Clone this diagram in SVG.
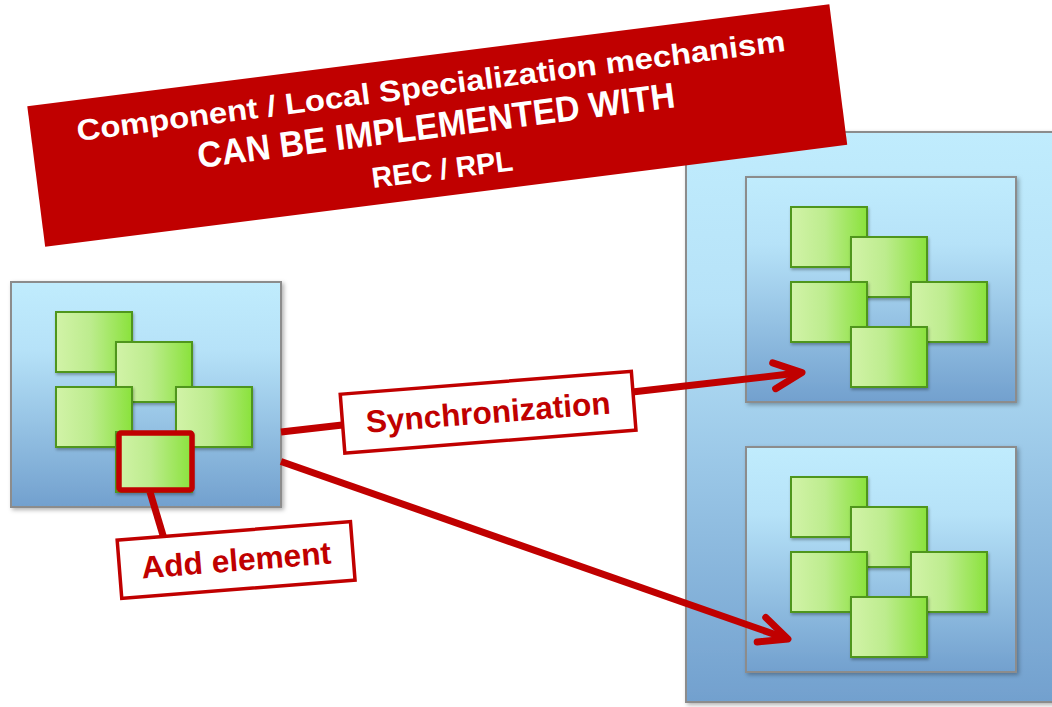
<svg xmlns="http://www.w3.org/2000/svg" width="1052" height="707" viewBox="0 0 1052 707">
  <style>
    .box { fill: url(#boxGrad); stroke: #8c8c8c; stroke-width: 2; filter: url(#shadow); }
    .el { fill: url(#greenGrad); stroke: #4f961f; stroke-width: 2; filter: url(#shadowSmall); }
    .conn { fill: none; stroke: #c00000; stroke-width: 7; }
    .lbl { fill: #ffffff; stroke: #c00000; stroke-width: 3.5; }
    .lbltxt { font-family: "Liberation Sans", Arial, sans-serif; font-weight: bold; font-size: 31.5px; fill: #c00000; text-anchor: middle; }
    .ban { font-family: "Liberation Sans", Arial, sans-serif; font-weight: bold; fill: #ffffff; text-anchor: middle; }
  </style>
  <defs>
    <linearGradient id="boxGrad" x1="0" y1="0" x2="0" y2="1">
      <stop offset="0" stop-color="#c0ecfd"/>
      <stop offset="0.3" stop-color="#b6e2f8"/>
      <stop offset="1" stop-color="#72a0ce"/>
    </linearGradient>
    <linearGradient id="greenGrad" x1="0" y1="0" x2="1" y2="0">
      <stop offset="0" stop-color="#d2f3a8"/>
      <stop offset="0.45" stop-color="#bdec8e"/>
      <stop offset="1" stop-color="#8ae23c"/>
    </linearGradient>
    <filter id="shadow" x="-10%" y="-10%" width="125%" height="125%">
      <feDropShadow dx="2" dy="2" stdDeviation="2" flood-color="#000" flood-opacity="0.3"/>
    </filter>
    <filter id="shadowSmall" x="-10%" y="-10%" width="130%" height="130%">
      <feDropShadow dx="1" dy="2" stdDeviation="1.5" flood-color="#000" flood-opacity="0.3"/>
    </filter>
    <marker id="chev" markerUnits="userSpaceOnUse" markerWidth="40" markerHeight="40" refX="0" refY="0" orient="auto" style="overflow:visible">
      <path d="M-28,-13 L0,0 L-28,13" fill="none" stroke="#c00000" stroke-width="7" stroke-linecap="round" stroke-linejoin="round"/>
    </marker>
    <g id="cluster">
      <rect class="el" x="45" y="30" width="76" height="60"/>
      <rect class="el" x="105" y="60" width="76" height="60"/>
      <rect class="el" x="45" y="105" width="76" height="60"/>
      <rect class="el" x="165" y="105" width="76" height="60"/>
      <rect class="el" x="105" y="150" width="76" height="60"/>
    </g>
  </defs>

  <rect width="1052" height="707" fill="#ffffff"/>

  <g id="target-container">
    <rect class="box" x="686" y="132" width="380" height="570"/>
  </g>

  <g id="target-top">
    <rect class="box" x="746" y="177" width="270" height="225"/>
    <use href="#cluster" x="746" y="177"/>
  </g>

  <g id="target-bottom">
    <rect class="box" x="746" y="447" width="270" height="225"/>
    <use href="#cluster" x="746" y="447"/>
  </g>

  <g id="source">
    <rect class="box" x="11" y="282" width="270" height="225"/>
    <use href="#cluster" x="11" y="282"/>
    <rect x="119" y="433" width="73" height="57" rx="2" fill="none" stroke="#c00000" stroke-width="5.5"/>
  </g>

  <g id="connectors">
    <line class="conn" x1="281" y1="432" x2="802" y2="372.6" marker-end="url(#chev)"/>
    <line class="conn" x1="281" y1="461.5" x2="787.9" y2="639" marker-end="url(#chev)"/>
    <line class="conn" x1="150" y1="492" x2="163.5" y2="537"/>
  </g>

  <g id="label-sync" transform="translate(488.1,412.2) rotate(-4.5)">
    <rect class="lbl" x="-146" y="-29.5" width="292" height="59"/>
    <text class="lbltxt" x="0" y="11" textLength="245" lengthAdjust="spacingAndGlyphs">Synchronization</text>
  </g>

  <g id="label-add" transform="translate(236.1,560) rotate(-4.5)">
    <rect class="lbl" x="-117" y="-29.2" width="234" height="58.5"/>
    <text class="lbltxt" x="0" y="11" textLength="190" lengthAdjust="spacingAndGlyphs">Add element</text>
  </g>

  <g id="banner" transform="translate(437.2,125.5) rotate(-7.25)">
    <rect x="-404.2" y="-70.8" width="808.5" height="141.7" fill="#c00000"/>
    <text class="ban" x="-1.4" y="-30" font-size="29.5" textLength="714" lengthAdjust="spacingAndGlyphs">Component / Local Specialization mechanism</text>
    <text class="ban" x="-1.2" y="12" font-size="36" textLength="481" lengthAdjust="spacingAndGlyphs">CAN BE IMPLEMENTED WITH</text>
    <text class="ban" x="-0.6" y="54" font-size="29" textLength="142" lengthAdjust="spacingAndGlyphs">REC / RPL</text>
  </g>
</svg>
